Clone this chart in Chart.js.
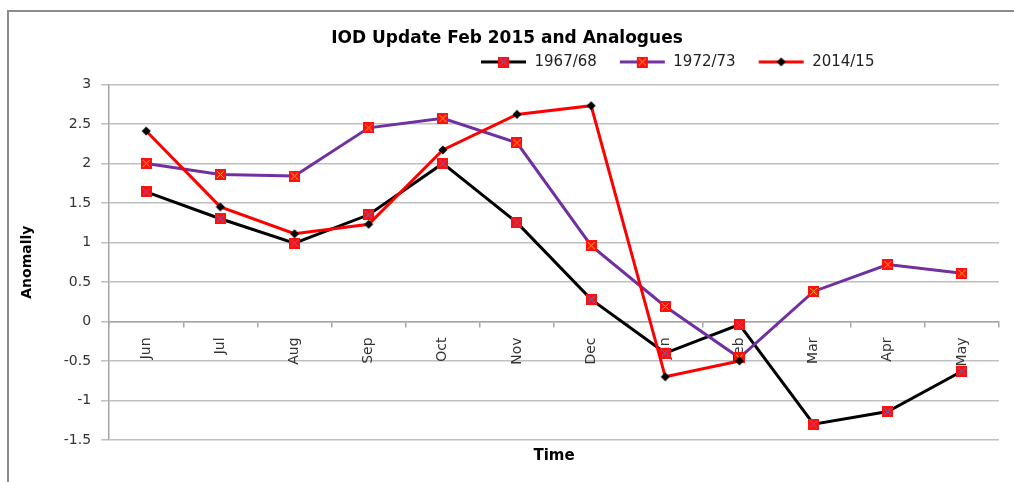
<html>

<head>
    <title>IOD Update Feb 2015 and Analogues</title>
    <style>
        html,
        body {
            margin: 0;
            padding: 0;
            background: #fff;
            overflow: hidden;
            width: 1014px;
            height: 482px;
            position: relative;
        }

        #frame {
            position: absolute;
            left: 7px;
            top: 10px;
            width: 1100px;
            height: 600px;
            border-left: 2px solid #8c8c8c;
            border-top: 2px solid #8c8c8c;
        }

        #chart {
            position: absolute;
            left: 0;
            top: 0;
        }
    </style>
</head>

<body>
    <div id="frame"></div>
    <canvas id="chart" width="1014" height="482"></canvas>

    <script src="https://cdn.jsdelivr.net/npm/chart.js@4.4.1/dist/chart.umd.min.js"></script>
    <script>
        const months = ['Jun', 'Jul', 'Aug', 'Sep', 'Oct', 'Nov', 'Dec', 'Jan', 'Feb', 'Mar', 'Apr', 'May']
        const seriesNames = ['1967/68', '1972/73', '2014/15']
        const iod1967 = [1.64, 1.30, 0.99, 1.35, 2.00, 1.25, 0.28, -0.40, -0.04, -1.30, -1.14, -0.63]
        const iod1972 = [2.00, 1.86, 1.84, 2.45, 2.57, 2.26, 0.96, 0.19, -0.46, 0.38, 0.72, 0.61]
        const iod2014 = [2.41, 1.45, 1.11, 1.23, 2.17, 2.62, 2.73, -0.70, -0.50, null, null, null]
        const yMin = -1.5, yMax = 3, yStep = 0.5

        const FONT = "'DejaVu Sans', sans-serif"

        // red square with a little cross, like the excel marker
        function squareMarker(crossColor) {
            const c = document.createElement('canvas')
            c.width = 11
            c.height = 11
            const g = c.getContext('2d')
            g.fillStyle = '#ff1010'
            g.fillRect(0, 0, 11, 11)
            g.strokeStyle = crossColor
            g.lineWidth = 1
            g.beginPath()
            g.moveTo(2, 2); g.lineTo(9, 9)
            g.moveTo(9, 2); g.lineTo(2, 9)
            g.stroke()
            return c
        }

        function diamondMarker() {
            const c = document.createElement('canvas')
            c.width = 10
            c.height = 10
            const g = c.getContext('2d')
            g.fillStyle = '#000'
            g.beginPath()
            g.moveTo(5, 0.5); g.lineTo(9.5, 5); g.lineTo(5, 9.5); g.lineTo(0.5, 5)
            g.closePath()
            g.fill()
            return c
        }

        // legend icon: line with the marker in the middle, left margin gives the gap between items
        function legendIcon(lineColor, marker) {
            const c = document.createElement('canvas')
            c.width = 62
            c.height = 12
            const g = c.getContext('2d')
            g.strokeStyle = lineColor
            g.lineWidth = 3
            g.beginPath()
            g.moveTo(16, 6); g.lineTo(61, 6)
            g.stroke()
            g.drawImage(marker, 38.5 - marker.width / 2, 6 - marker.height / 2)
            return c
        }

        const mk1967 = squareMarker('#5a6fd0')
        const mk1972 = squareMarker('#ffb020')
        const mk2014 = diamondMarker()

        const colors = ['#000000', '#7030a0', '#ff0000']
        const markers = [mk1967, mk1972, mk2014]
        const icons = colors.map((c, i) => legendIcon(c, markers[i]))
        const values = [iod1967, iod1972, iod2014]

        // move the legend to where excel put it
        const legendShift = {
            id: 'legendShift',
            afterLayout(chart) {
                const lg = chart.legend
                const w = lg.right - lg.left
                lg.left = 458
                lg.right = lg.left + w
                lg.top -= 5
                lg.bottom -= 5
            }
        }

        const my_chart = new Chart(document.getElementById('chart').getContext('2d'), {
            type: 'line',
            data: {
                labels: months,
                datasets: seriesNames.map((name, i) => ({
                    label: name,
                    data: values[i],
                    borderColor: colors[i],
                    borderWidth: 3,
                    pointStyle: markers[i],
                    pointRadius: 5,
                    lineTension: 0,
                    fill: false,
                    spanGaps: false,
                    order: 3 - i,
                }))
            },
            options: {
                responsive: false,
                animation: false,
                layout: {
                    padding: { top: 28, left: 15, right: 15, bottom: 16 }
                },
                plugins: {
                    title: {
                        display: true,
                        text: 'IOD Update Feb 2015 and Analogues',
                        color: '#000',
                        font: { family: FONT, size: 17, weight: 'bold' },
                        padding: { top: 0, bottom: 4 }
                    },
                    legend: {
                        display: true,
                        position: 'top',
                        align: 'start',
                        labels: {
                            usePointStyle: true,
                            pointStyleWidth: 62,
                            padding: 7,
                            color: '#222',
                            font: { family: FONT, size: 15 },
                            generateLabels: (chart) => chart.data.datasets.map((ds, i) => ({
                                text: ds.label,
                                pointStyle: icons[i],
                                datasetIndex: i,
                                hidden: false,
                                lineWidth: 0,
                                fillStyle: 'transparent',
                                strokeStyle: 'transparent',
                                fontColor: '#222'
                            }))
                        }
                    },
                    tooltip: { enabled: false }
                },
                scales: {
                    x: {
                        type: 'category',
                        position: { y: 0 },
                        offset: true,
                        grid: {
                            offset: true,
                            drawOnChartArea: false,
                            drawTicks: true,
                            tickLength: 5,
                            color: '#a6a6a6',
                            lineWidth: 1.5
                        },
                        border: { display: true, color: '#a6a6a6', width: 1.5 },
                        ticks: {
                            minRotation: 90,
                            maxRotation: 90,
                            padding: 11,
                            color: '#333',
                            font: { family: FONT, size: 14 }
                        }
                    },
                    x2: {
                        type: 'category',
                        labels: months,
                        position: 'bottom',
                        offset: true,
                        grid: { display: false, drawTicks: false },
                        border: { display: false },
                        ticks: { display: false },
                        title: {
                            display: true,
                            text: 'Time',
                            color: '#000',
                            font: { family: FONT, size: 15, weight: 'bold' },
                            padding: { top: 7, bottom: 1 }
                        }
                    },
                    y: {
                        min: yMin,
                        max: yMax,
                        ticks: {
                            stepSize: yStep,
                            padding: 10,
                            color: '#333',
                            font: { family: FONT, size: 14 },
                            callback: (v) => String(Math.round(v * 10) / 10)
                        },
                        grid: {
                            color: '#bfbfbf',
                            lineWidth: 1.5,
                            tickLength: 8
                        },
                        border: { display: true, color: '#a6a6a6', width: 1.5 },
                        title: {
                            display: true,
                            text: 'Anomally',
                            color: '#000',
                            font: { family: FONT, size: 14, weight: 'bold' },
                            padding: { top: 4, bottom: 18 }
                        }
                    }
                }
            },
            plugins: [legendShift]
        });
    </script>
</body>

</html>
